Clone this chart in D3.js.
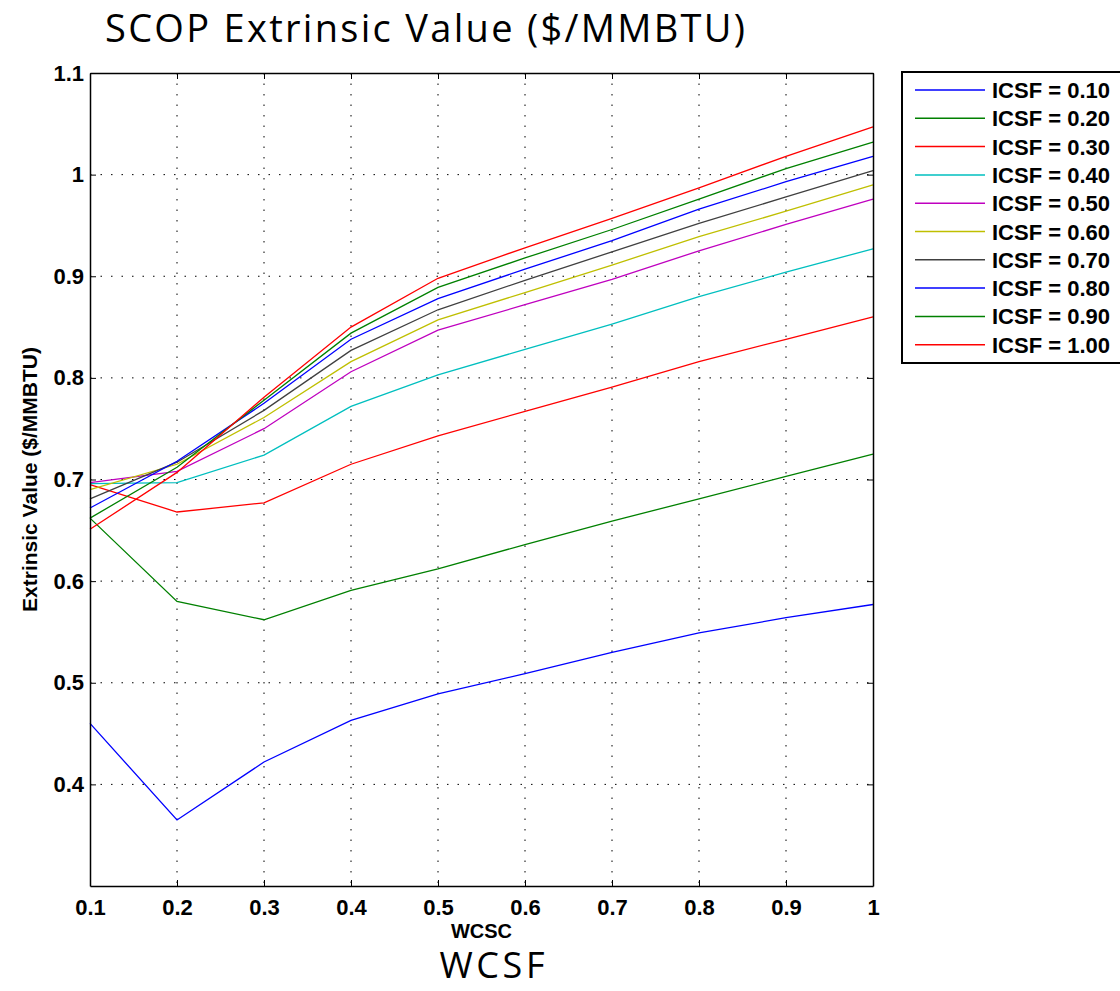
<!DOCTYPE html>
<html>
<head>
<meta charset="utf-8">
<script src="https://cdn.jsdelivr.net/npm/d3@7"></script>
<style>
  body { margin: 0; background: #fff; }
  svg { display: block; }
</style>
</head>
<body>
<svg id="chart" width="1120" height="991"></svg>
<script>
// WCSC values on the x axis
const wcsc = [0.1, 0.2, 0.3, 0.4, 0.5, 0.6, 0.7, 0.8, 0.9, 1.0];

// one series per ICSF level
const icsfLabels = ['ICSF = 0.10', 'ICSF = 0.20', 'ICSF = 0.30', 'ICSF = 0.40', 'ICSF = 0.50',
  'ICSF = 0.60', 'ICSF = 0.70', 'ICSF = 0.80', 'ICSF = 0.90', 'ICSF = 1.00'];
const icsf10 = [0.460, 0.365, 0.422, 0.463, 0.489, 0.509, 0.530, 0.549, 0.564, 0.577];
const icsf20 = [0.662, 0.580, 0.562, 0.591, 0.612, 0.636, 0.659, 0.681, 0.703, 0.725];
const icsf30 = [0.695, 0.668, 0.677, 0.715, 0.743, 0.767, 0.791, 0.816, 0.838, 0.860];
const icsf40 = [0.696, 0.697, 0.724, 0.772, 0.803, 0.828, 0.853, 0.880, 0.904, 0.927];
const icsf50 = [0.697, 0.708, 0.750, 0.806, 0.847, 0.872, 0.897, 0.925, 0.951, 0.976];
const icsf60 = [0.690, 0.715, 0.761, 0.816, 0.857, 0.884, 0.911, 0.939, 0.964, 0.990];
const icsf70 = [0.681, 0.717, 0.768, 0.827, 0.867, 0.896, 0.924, 0.952, 0.978, 1.004];
const icsf80 = [0.672, 0.718, 0.775, 0.838, 0.878, 0.907, 0.935, 0.966, 0.993, 1.018];
const icsf90 = [0.662, 0.712, 0.778, 0.844, 0.889, 0.918, 0.946, 0.976, 1.006, 1.032];
const icsf100 = [0.651, 0.707, 0.781, 0.850, 0.898, 0.928, 0.957, 0.987, 1.018, 1.047];
const seriesValues = [icsf10, icsf20, icsf30, icsf40, icsf50, icsf60, icsf70, icsf80, icsf90, icsf100];

const xTicks = [0.1, 0.2, 0.3, 0.4, 0.5, 0.6, 0.7, 0.8, 0.9, 1];
const yTicks = [0.4, 0.5, 0.6, 0.7, 0.8, 0.9, 1, 1.1];

const colors = ['#0000ff', '#008000', '#ff0000', '#00bfbf', '#bf00bf',
  '#bfbf00', '#404040', '#0000ff', '#008000', '#ff0000'];

const svg = d3.select('#chart');
const margin = { top: 73, right: 247, bottom: 105, left: 90 };
const width = 1120 - margin.left - margin.right;
const height = 991 - margin.top - margin.bottom;

const x = d3.scaleLinear().domain([0.1, 1]).range([0, width]);
const y = d3.scaleLinear().domain([0.3, 1.1]).range([height, 0]);

const g = svg.append('g').attr('transform', `translate(${margin.left},${margin.top})`);

// grid
g.append('g')
  .selectAll('line.vgrid')
  .data(xTicks.slice(1, -1))
  .join('line')
  .attr('x1', d => x(d)).attr('x2', d => x(d))
  .attr('y1', 0).attr('y2', height)
  .attr('stroke', '#000').attr('stroke-width', 1)
  .attr('stroke-dasharray', '1.5,9');

g.append('g')
  .selectAll('line.hgrid')
  .data(yTicks.slice(0, -1))
  .join('line')
  .attr('x1', 0).attr('x2', width)
  .attr('y1', d => y(d)).attr('y2', d => y(d))
  .attr('stroke', '#000').attr('stroke-width', 1)
  .attr('stroke-dasharray', '1.5,9');

// series
const line = d3.line()
  .x((d, i) => x(wcsc[i]))
  .y(d => y(d));

g.append('g')
  .selectAll('path')
  .data(seriesValues)
  .join('path')
  .attr('fill', 'none')
  .attr('stroke', (d, i) => colors[i])
  .attr('stroke-width', 1.3)
  .attr('d', line);

// axes (ticks inside, box all round)
const tickFont = 'bold 22px "Liberation Sans", Arial, sans-serif';

g.append('g')
  .attr('transform', `translate(0,${height})`)
  .call(d3.axisBottom(x).tickValues(xTicks).tickFormat(d3.format('')).tickSizeInner(-6).tickSizeOuter(0).tickPadding(13));
g.append('g')
  .call(d3.axisLeft(y).tickValues(yTicks).tickFormat(d3.format('')).tickSizeInner(-6).tickSizeOuter(0).tickPadding(6));
g.append('g')
  .call(d3.axisTop(x).tickValues(xTicks).tickFormat('').tickSizeInner(-6).tickSizeOuter(0));
g.append('g')
  .attr('transform', `translate(${width},0)`)
  .call(d3.axisRight(y).tickValues(yTicks).tickFormat('').tickSizeInner(-6).tickSizeOuter(0));

g.selectAll('.domain').attr('stroke', '#000').attr('stroke-width', 1.5);
g.selectAll('.tick line').attr('stroke', '#000');
g.selectAll('.tick text').style('font', tickFont).attr('fill', '#000');

// axis labels
svg.append('text')
  .attr('x', margin.left + x(0.55))
  .attr('y', 938)
  .attr('text-anchor', 'middle')
  .style('font', 'bold 20px "Liberation Sans", Arial, sans-serif')
  .text('WCSC');

svg.append('text')
  .attr('transform', `translate(37,${margin.top + height / 2}) rotate(-90)`)
  .attr('text-anchor', 'middle')
  .style('font', 'bold 21px "Liberation Sans", Arial, sans-serif')
  .text('Extrinsic Value ($/MMBTU)');

// title and subtitle
svg.append('text')
  .attr('x', 105)
  .attr('y', 42)
  .style('font', '38px "Open Sans", sans-serif')
  .attr('textLength', 640)
  .text('SCOP Extrinsic Value ($/MMBTU)');

svg.append('text')
  .attr('x', 492)
  .attr('y', 978)
  .attr('text-anchor', 'middle')
  .style('font', '36px "Open Sans", sans-serif')
  .attr('textLength', 105)
  .text('WCSF');

// legend
const legend = svg.append('g').attr('transform', 'translate(902,72)');
legend.append('rect')
  .attr('x', 0).attr('y', 0)
  .attr('width', 240).attr('height', 291)
  .attr('fill', '#fff').attr('stroke', '#000').attr('stroke-width', 2);

const rows = legend.selectAll('g.row')
  .data(icsfLabels)
  .join('g')
  .attr('transform', (d, i) => `translate(0,${18 + i * 28.3})`);
rows.append('line')
  .attr('x1', 13).attr('x2', 83)
  .attr('stroke', (d, i) => colors[i]).attr('stroke-width', 1.5);
rows.append('text')
  .attr('x', 90).attr('y', 8)
  .style('font', 'bold 22px "Liberation Sans", Arial, sans-serif')
  .text(d => d);
</script>
</body>
</html>
